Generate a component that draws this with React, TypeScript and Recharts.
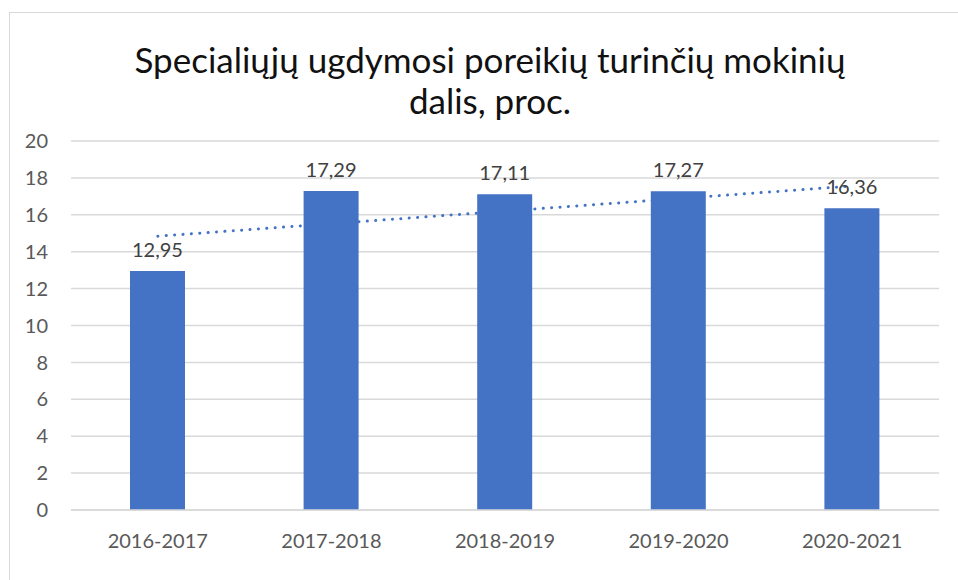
import { ComposedChart, Bar, Line, XAxis, YAxis, CartesianGrid, LabelList } from 'recharts';

const years = ['2016-2017', '2017-2018', '2018-2019', '2019-2020', '2020-2021'];
const shares = [12.95, 17.29, 17.11, 17.27, 16.36];
// linear trend line at each category centre
const trend = [14.84, 15.52, 16.2, 16.88, 17.56];
const yTicks = [0, 2, 4, 6, 8, 10, 12, 14, 16, 18, 20];

const data = years.map((year, i) => ({ year, share: shares[i], trend: trend[i] }));

const FONT = 'Lato, "Open Sans", sans-serif';
const BLUE = '#4472C4';

export default function App() {
  return (
    <div
      style={{
        position: 'absolute',
        left: 0,
        top: 0,
        width: 958,
        height: 580,
        overflow: 'hidden',
        background: '#fff',
        fontFamily: FONT,
      }}
    >
      <div
        style={{
          position: 'absolute',
          left: 9,
          top: 12,
          width: 980,
          height: 600,
          border: '1px solid #d9d9d9',
        }}
      />
      <div
        style={{
          position: 'absolute',
          left: 0,
          top: 39,
          width: 980,
          textAlign: 'center',
          fontSize: 35,
          lineHeight: '41px',
          color: '#111',
        }}
      >
        Specialiųjų ugdymosi poreikių turinčių mokinių
        <br />
        dalis, proc.
      </div>
      <ComposedChart
        width={958}
        height={580}
        data={data}
        margin={{ top: 141, right: 19, bottom: 38, left: 9 }}
        style={{ position: 'absolute', left: 0, top: 0 }}
      >
        <CartesianGrid vertical={false} stroke="#d9d9d9" strokeWidth={1.5} />
        <XAxis
          dataKey="year"
          axisLine={{ stroke: '#d9d9d9', strokeWidth: 1.5 }}
          tickLine={false}
          tickSize={0}
          tickMargin={24}
          height={32}
          tick={{ fill: '#595959', fontSize: 20, fontFamily: FONT }}
        />
        <YAxis
          domain={[0, 20]}
          ticks={yTicks}
          interval={0}
          width={62}
          axisLine={false}
          tickLine={false}
          tickSize={0}
          tickMargin={23}
          tick={{ fill: '#595959', fontSize: 20, fontFamily: FONT }}
        />
        <Line
          dataKey="trend"
          type="linear"
          stroke={BLUE}
          strokeWidth={3}
          strokeDasharray="0.1 8.3"
          strokeLinecap="round"
          dot={false}
          activeDot={false}
          isAnimationActive={false}
        />
        <Bar dataKey="share" fill={BLUE} barSize={55} isAnimationActive={false}>
          <LabelList
            dataKey="share"
            position="top"
            offset={14}
            formatter={(v: number) => v.toFixed(2).replace('.', ',')}
            style={{ fill: '#404040', fontSize: 20, fontFamily: FONT }}
          />
        </Bar>
      </ComposedChart>
    </div>
  );
}
